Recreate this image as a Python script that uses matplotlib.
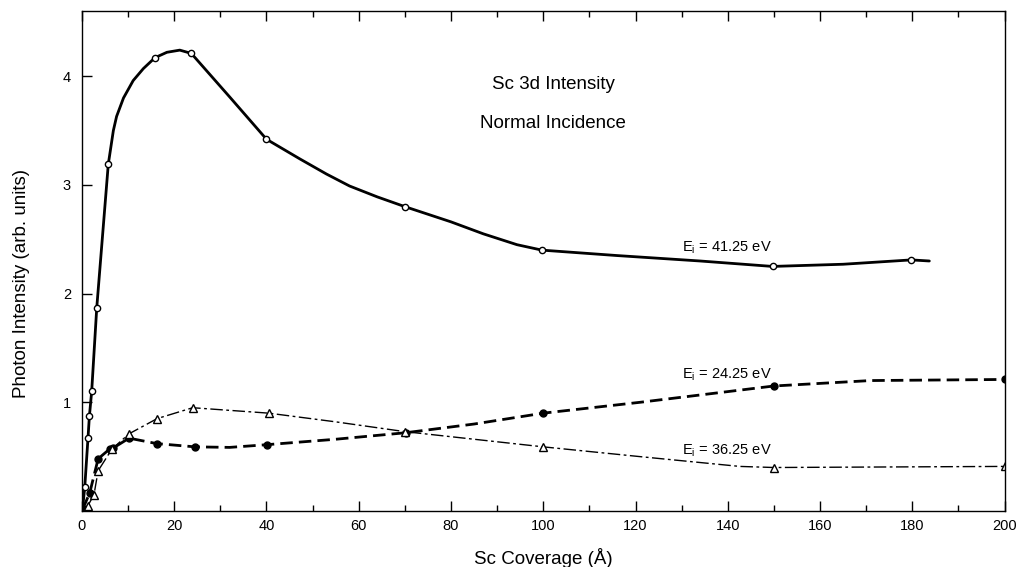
## Sc 3d photon intensity vs Sc coverage, normal incidence
import numpy as np
import matplotlib
matplotlib.use('Agg')
import matplotlib.pyplot as plt
from matplotlib.ticker import MultipleLocator

plt.rcParams['font.family'] = ['Liberation Sans', 'DejaVu Sans']
plt.rcParams['mathtext.fontset'] = 'custom'
plt.rcParams['mathtext.rm'] = 'Liberation Sans'

## E_i = 41.25 eV (open circles, solid line)
x41 = [0.6, 1.3, 1.6, 2.1, 3.2, 5.7, 15.8, 23.7, 40.0, 70.0, 99.7, 149.7, 179.8]
y41 = [0.22, 0.67, 0.87, 1.10, 1.87, 3.19, 4.17, 4.21, 3.42, 2.80, 2.40, 2.25, 2.31]
## line as drawn through the points
cx41 = [0.2, 0.6, 1.3, 1.6, 2.1, 3.2, 5.7, 6.8, 7.5, 9.0, 11.1, 13.3, 15.8, 18.4, 21.2,
        23.7, 32.0, 40.0, 47.2, 53.0, 58.0, 64.0, 70.0, 80.0, 87.0, 94.3, 99.7, 116.0,
        134.0, 149.7, 165.0, 179.8, 183.7]
cy41 = [0.05, 0.22, 0.67, 0.87, 1.10, 1.87, 3.19, 3.50, 3.63, 3.80, 3.96, 4.07, 4.17, 4.22, 4.24,
        4.21, 3.81, 3.42, 3.24, 3.10, 2.99, 2.89, 2.80, 2.66, 2.55, 2.45, 2.40, 2.35,
        2.30, 2.25, 2.27, 2.31, 2.30]

## E_i = 24.25 eV (filled circles, dashed line)
x24 = [0.2, 1.7, 3.5, 6.0, 6.8, 10.2, 16.2, 24.5, 40.1, 70.2, 100.0, 150.0, 200.0]
y24 = [0.02, 0.17, 0.48, 0.57, 0.58, 0.67, 0.62, 0.59, 0.61, 0.72, 0.90, 1.15, 1.21]
cx24 = [0.2, 1.7, 3.5, 6.0, 6.8, 10.2, 16.2, 24.5, 32.0, 40.1, 55.0, 70.2, 85.0, 100.0,
        121.0, 150.0, 171.0, 200.0]
cy24 = [0.02, 0.17, 0.48, 0.57, 0.58, 0.67, 0.62, 0.59, 0.585, 0.61, 0.66, 0.72, 0.80, 0.90,
        1.00, 1.15, 1.20, 1.21]

## E_i = 36.25 eV (open triangles, dash-dot line)
x36 = [1.3, 2.6, 3.5, 6.5, 10.2, 16.3, 24.0, 40.5, 70.0, 100.0, 150.0, 200.0]
y36 = [0.05, 0.15, 0.37, 0.57, 0.71, 0.85, 0.95, 0.90, 0.73, 0.59, 0.40, 0.41]
cx36 = [0.3, 1.3, 2.6, 3.5, 6.5, 10.2, 16.3, 24.0, 40.5, 55.0, 70.0, 85.0, 100.0,
        121.0, 142.6, 150.0, 175.0, 200.0]
cy36 = [0.02, 0.05, 0.15, 0.37, 0.57, 0.71, 0.85, 0.95, 0.90, 0.82, 0.73, 0.66, 0.59,
        0.50, 0.41, 0.40, 0.405, 0.41]

xticks = [0, 20, 40, 60, 80, 100, 120, 140, 160, 180, 200]
yticks = [1, 2, 3, 4]

fig = plt.figure(figsize=(10.16, 5.67), dpi=100)
ax = fig.add_axes([0.0807, 0.0988, 0.908, 0.8818])

ax.plot(cx41, cy41, color='black', lw=2.0, ls='-', solid_capstyle='round')
ax.plot(x41, y41, ls='none', marker='o', ms=4.5, mfc='white', mec='black', mew=1.0)

ax.plot(cx24, cy24, color='black', lw=2.0, ls=(0, (4.5, 2.2)))
ax.plot(x24, y24, ls='none', marker='o', ms=5.0, mfc='black', mec='black')

ax.plot(cx36, cy36, color='black', lw=1.0, ls=(0, (9, 2.5, 2, 2.5)))
ax.plot(x36, y36, ls='none', marker='^', ms=6.0, mfc='white', mec='black', mew=1.0)

ax.set_xlim(0, 200)
ax.set_ylim(0, 4.6)
ax.set_xticks(xticks)
ax.set_yticks(yticks)
ax.xaxis.set_minor_locator(MultipleLocator(10))
ax.tick_params(axis='x', which='both', direction='in', top=True, labelsize=10.5, pad=6)
ax.tick_params(axis='y', which='both', direction='in', right=False, labelsize=10.5, pad=8)
ax.tick_params(which='major', length=7, width=1.0)
ax.tick_params(which='minor', length=4, width=1.0)
for s in ax.spines.values():
    s.set_linewidth(1.0)

fig.text(553/1016, 1-85/567, 'Sc 3d Intensity', fontsize=13.5, ha='center', va='center')
fig.text(553/1016, 1-123/567, 'Normal Incidence', fontsize=13.5, ha='center', va='center')

fig.text(682/1016, 1-248/567, r'E$_\mathregular{i}$ = 41.25 eV', fontsize=10.5, ha='left', va='center')
fig.text(682/1016, 1-375/567, r'E$_\mathregular{i}$ = 24.25 eV', fontsize=10.5, ha='left', va='center')
fig.text(682/1016, 1-451/567, r'E$_\mathregular{i}$ = 36.25 eV', fontsize=10.5, ha='left', va='center')

fig.text(22/1016, 1-283/567, 'Photon Intensity (arb. units)', fontsize=13.5,
         rotation=90, ha='center', va='center')
fig.text(543/1016, 1-558/567, 'Sc Coverage (Å)', fontsize=13.5, ha='center', va='center')

fig.savefig('out.png', dpi=100)
